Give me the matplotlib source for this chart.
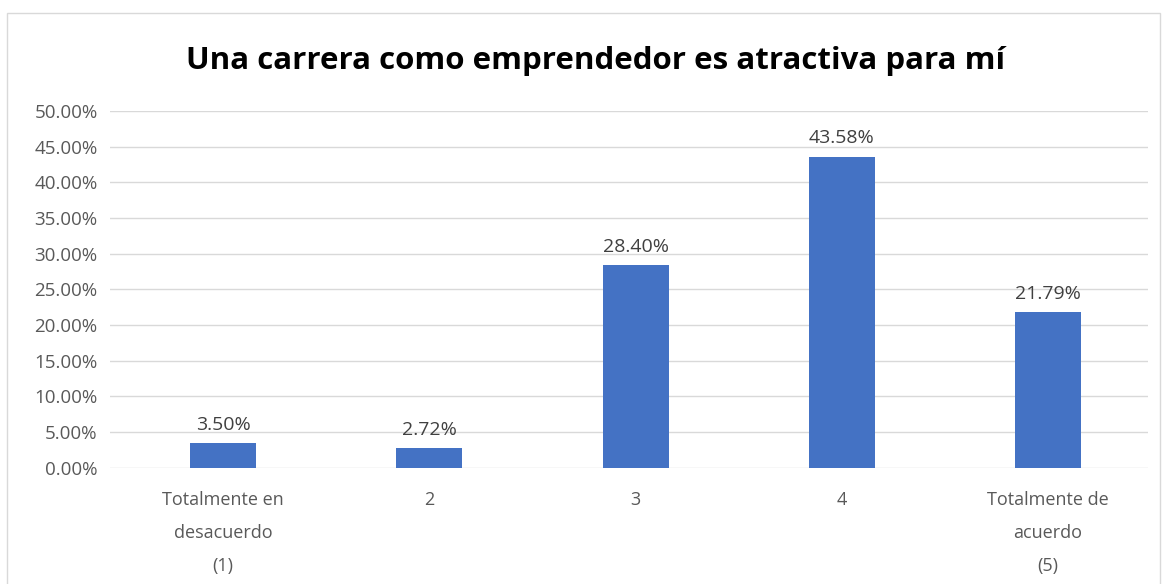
import matplotlib.pyplot as plt
from matplotlib.patches import Rectangle
from matplotlib.ticker import FuncFormatter

# Datos
categorias = ["Totalmente en\ndesacuerdo\n(1)", "2", "3", "4", "Totalmente de\nacuerdo\n(5)"]
valores = [0.0350, 0.0272, 0.2840, 0.4358, 0.2179]
etiquetas = ["3.50%", "2.72%", "28.40%", "43.58%", "21.79%"]
titulo = "Una carrera como emprendedor es atractiva para mí"

plt.rcParams['font.family'] = ['Open Sans', 'DejaVu Sans']

fig = plt.figure(figsize=(11.68, 5.84), dpi=100)
ax = fig.add_axes([0.0942, 0.199, 0.8887, 0.611])

x = range(len(categorias))
bars = ax.bar(x, valores, width=0.32, color="#4472C4", zorder=3)

for b, lab in zip(bars, etiquetas):
    ax.text(b.get_x() + b.get_width() / 2, b.get_height() + 0.013, lab,
            ha="center", va="bottom", fontsize=14, color="#404040")

ax.set_xlim(-0.548, 4.485)
ax.set_ylim(0, 0.5)
ax.set_yticks([i * 0.05 for i in range(11)])
ax.yaxis.set_major_formatter(FuncFormatter(lambda v, p: f"{v * 100:.2f}%"))
ax.set_xticks(list(x))
ax.set_xticklabels(categorias, fontsize=13, color="#595959", linespacing=2.05)
ax.tick_params(axis="y", labelsize=13.5, labelcolor="#595959", length=0, pad=9)
ax.tick_params(axis="x", length=0, pad=17)
ax.grid(axis="y", color="#D9D9D9", linewidth=1, zorder=0)
for s in ax.spines.values():
    s.set_visible(False)

fig.text(0.51, 0.895, titulo, ha="center", va="center", fontsize=22.5,
         fontweight="bold", color="#000000")

# borde del área del gráfico
fig.patches.append(Rectangle((0.006, -0.01), 0.987, 0.988, transform=fig.transFigure,
                             fill=False, edgecolor="#D9D9D9", linewidth=1))

fig.savefig("out.png", dpi=100)
